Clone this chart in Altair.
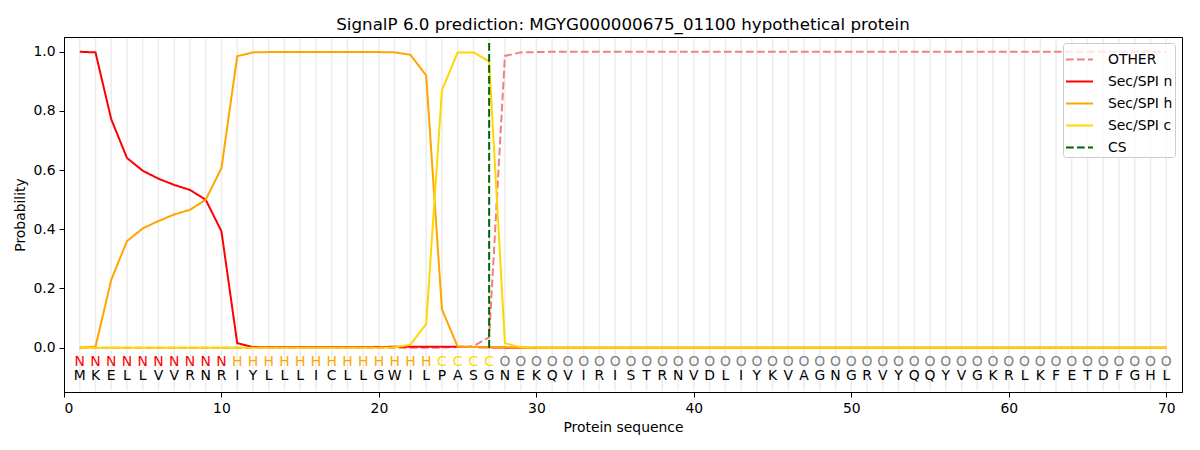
import altair as alt
import pandas as pd

positions = list(range(1, 71))
sequence = list("MKELLVVRNRIYLLLICLLGWILPASGNEKQVIRISTRNVDLIYKVAGNGRVYQQYVGKRLKFETDFGHL")
labels = list("NNNNNNNNNN" "HHHHHHHHHHHHH" "CCCC" "OOOOOOOOOOOOOOOOOOOOOOOOOOOOOOOOOOOOOOOOOOO")

other = [0.0, 0.0, 0.0, 0.0, 0.0, 0.0, 0.0, 0.0, 0.0, 0.0,
         0.0, 0.0, 0.0, 0.0, 0.0, 0.0, 0.0, 0.0, 0.0, 0.0,
         0.0, 0.0, 0.0, 0.0, 0.002, 0.005, 0.035, 0.986, 0.998, 0.999,
         1.0, 1.0, 1.0, 1.0, 1.0, 1.0, 1.0, 1.0, 1.0, 1.0,
         1.0, 1.0, 1.0, 1.0, 1.0, 1.0, 1.0, 1.0, 1.0, 1.0,
         1.0, 1.0, 1.0, 1.0, 1.0, 1.0, 1.0, 1.0, 1.0, 1.0,
         1.0, 1.0, 1.0, 1.0, 1.0, 1.0, 1.0, 1.0, 1.0, 1.0]
sec_n = [1.0, 0.998, 0.772, 0.641, 0.598, 0.571, 0.550, 0.533, 0.500, 0.393,
         0.015, 0.002, 0.001, 0.001, 0.001, 0.001, 0.001, 0.001, 0.001, 0.002,
         0.003, 0.003, 0.003, 0.003, 0.003, 0.002, 0.001, 0.0, 0.0, 0.0,
         0.0, 0.0, 0.0, 0.0, 0.0, 0.0, 0.0, 0.0, 0.0, 0.0,
         0.0, 0.0, 0.0, 0.0, 0.0, 0.0, 0.0, 0.0, 0.0, 0.0,
         0.0, 0.0, 0.0, 0.0, 0.0, 0.0, 0.0, 0.0, 0.0, 0.0,
         0.0, 0.0, 0.0, 0.0, 0.0, 0.0, 0.0, 0.0, 0.0, 0.0]
sec_h = [0.0, 0.003, 0.229, 0.360, 0.403, 0.428, 0.450, 0.466, 0.500, 0.607,
         0.985, 0.998, 0.999, 0.999, 0.999, 0.999, 0.999, 0.999, 0.999, 0.999,
         0.998, 0.990, 0.920, 0.130, 0.003, 0.002, 0.001, 0.001, 0.0, 0.0,
         0.0, 0.0, 0.0, 0.0, 0.0, 0.0, 0.0, 0.0, 0.0, 0.0,
         0.0, 0.0, 0.0, 0.0, 0.0, 0.0, 0.0, 0.0, 0.0, 0.0,
         0.0, 0.0, 0.0, 0.0, 0.0, 0.0, 0.0, 0.0, 0.0, 0.0,
         0.0, 0.0, 0.0, 0.0, 0.0, 0.0, 0.0, 0.0, 0.0, 0.0]
sec_c = [0.0, 0.0, 0.0, 0.0, 0.0, 0.0, 0.0, 0.0, 0.0, 0.0,
         0.0, 0.0, 0.0, 0.0, 0.0, 0.0, 0.0, 0.0, 0.0, 0.0,
         0.001, 0.010, 0.080, 0.869, 0.998, 0.998, 0.968, 0.015, 0.001, 0.0,
         0.0, 0.0, 0.0, 0.0, 0.0, 0.0, 0.0, 0.0, 0.0, 0.0,
         0.0, 0.0, 0.0, 0.0, 0.0, 0.0, 0.0, 0.0, 0.0, 0.0,
         0.0, 0.0, 0.0, 0.0, 0.0, 0.0, 0.0, 0.0, 0.0, 0.0,
         0.0, 0.0, 0.0, 0.0, 0.0, 0.0, 0.0, 0.0, 0.0, 0.0]

cs_position = 27
cs_top = 1.035

series_names = ["OTHER", "Sec/SPI n", "Sec/SPI h", "Sec/SPI c", "CS"]
series_colors = ["#F08080", "#FF0000", "#FFA500", "#FFD700", "#006400"]
dash = [7.7, 3.3]
solid = [1, 0]
series_dashes = [dash, solid, solid, solid, dash]

label_colors = {"N": "#FF0000", "H": "#FFA500", "C": "#FFD700", "O": "#808080"}

FONT = "DejaVu Sans"

rows = []
for name, vals in zip(series_names[:4], [other, sec_n, sec_h, sec_c]):
    for p, v in zip(positions, vals):
        rows.append({"pos": p, "prob": v, "series": name})
lines_df = pd.DataFrame(rows)

seq_df = pd.DataFrame({"pos": positions, "aa": sequence, "lab": labels,
                       "aa_y": [-0.095] * 70, "lab_y": [-0.047] * 70,
                       "g0": [-0.146] * 70, "g1": [1.046] * 70})
cs_df = pd.DataFrame({"pos": [cs_position], "y0": [0.0], "y1": [cs_top], "series": ["CS"]})

xscale = alt.Scale(domain=[0, 71], nice=False, zero=False)
yscale = alt.Scale(domain=[-0.15, 1.05], nice=False, zero=False)

xaxis = alt.Axis(values=[0, 10, 20, 30, 40, 50, 60, 70], title="Protein sequence", format="d")
yaxis = alt.Axis(values=[0.0, 0.2, 0.4, 0.6, 0.8, 1.0], title="Probability", format=".1f")

color_enc = alt.Color("series:N", scale=alt.Scale(domain=series_names, range=series_colors), title=None)
dash_enc = alt.StrokeDash("series:N", scale=alt.Scale(domain=series_names, range=series_dashes), title=None)

grid = alt.Chart(seq_df).mark_rule(color="#ececec", strokeWidth=1.5).encode(
    x=alt.X("pos:Q", scale=xscale, axis=xaxis),
    y=alt.Y("g0:Q", scale=yscale, axis=yaxis),
    y2="g1:Q",
)

line_layers = []
for name in series_names[:4]:
    line_layers.append(
        alt.Chart(lines_df).transform_filter(alt.datum.series == name)
        .mark_line(strokeWidth=2)
        .encode(
            x=alt.X("pos:Q", scale=xscale, axis=xaxis),
            y=alt.Y("prob:Q", scale=yscale, axis=yaxis),
            color=color_enc,
            strokeDash=dash_enc,
        )
    )

cs_rule = alt.Chart(cs_df).mark_rule(strokeWidth=2).encode(
    x=alt.X("pos:Q", scale=xscale, axis=xaxis),
    y=alt.Y("y0:Q", scale=yscale, axis=yaxis),
    y2="y1:Q",
    color=color_enc,
    strokeDash=dash_enc,
)

aa_text = alt.Chart(seq_df).mark_text(font=FONT, fontSize=13.9, color="black", baseline="middle").encode(
    x=alt.X("pos:Q", scale=xscale, axis=xaxis),
    y=alt.Y("aa_y:Q", scale=yscale, axis=yaxis),
    text="aa:N",
)

lab_layers = []
for lab, col in label_colors.items():
    lab_layers.append(
        alt.Chart(seq_df).transform_filter(alt.datum.lab == lab)
        .mark_text(font=FONT, fontSize=13.9, color=col, baseline="middle")
        .encode(
            x=alt.X("pos:Q", scale=xscale, axis=xaxis),
            y=alt.Y("lab_y:Q", scale=yscale, axis=yaxis),
            text="lab:N",
        )
    )

chart = alt.layer(grid, *line_layers, cs_rule, aa_text, *lab_layers).properties(
    width=1118,
    height=355,
    title=alt.TitleParams(
        "SignalP 6.0 prediction: MGYG000000675_01100 hypothetical protein",
        font=FONT, fontSize=16.7, fontWeight="normal", color="black",
        anchor="middle", baseline="alphabetic", offset=8, frame="group", dy=18,
    ),
    autosize=alt.AutoSizeParams(type="none"),
    padding={"left": 56, "top": 29, "right": 10, "bottom": 50},
).configure_view(
    stroke="black", strokeWidth=1,
).configure_axis(
    grid=False,
    domainColor="black", domainWidth=1,
    tickColor="black", tickSize=5, tickWidth=1,
    labelFont=FONT, labelFontSize=13.9, labelColor="black", labelPadding=4,
    titleFont=FONT, titleFontSize=13.9, titleColor="black", titleFontWeight="normal",
).configure_axisX(
    titlePadding=6,
).configure_axisY(
    titlePadding=5,
).configure_legend(
    orient="none", legendX=999, legendY=6,
    symbolType="stroke", symbolSize=729, symbolStrokeWidth=2,
    labelFont=FONT, labelFontSize=13.9, labelColor="black",
    fillColor="rgba(255,255,255,0.8)", strokeColor="#cccccc", cornerRadius=3,
    padding=2, rowPadding=-5.5, labelOffset=14,
)

chart.save("out.html", embed_options={"renderer": "svg", "actions": False})
